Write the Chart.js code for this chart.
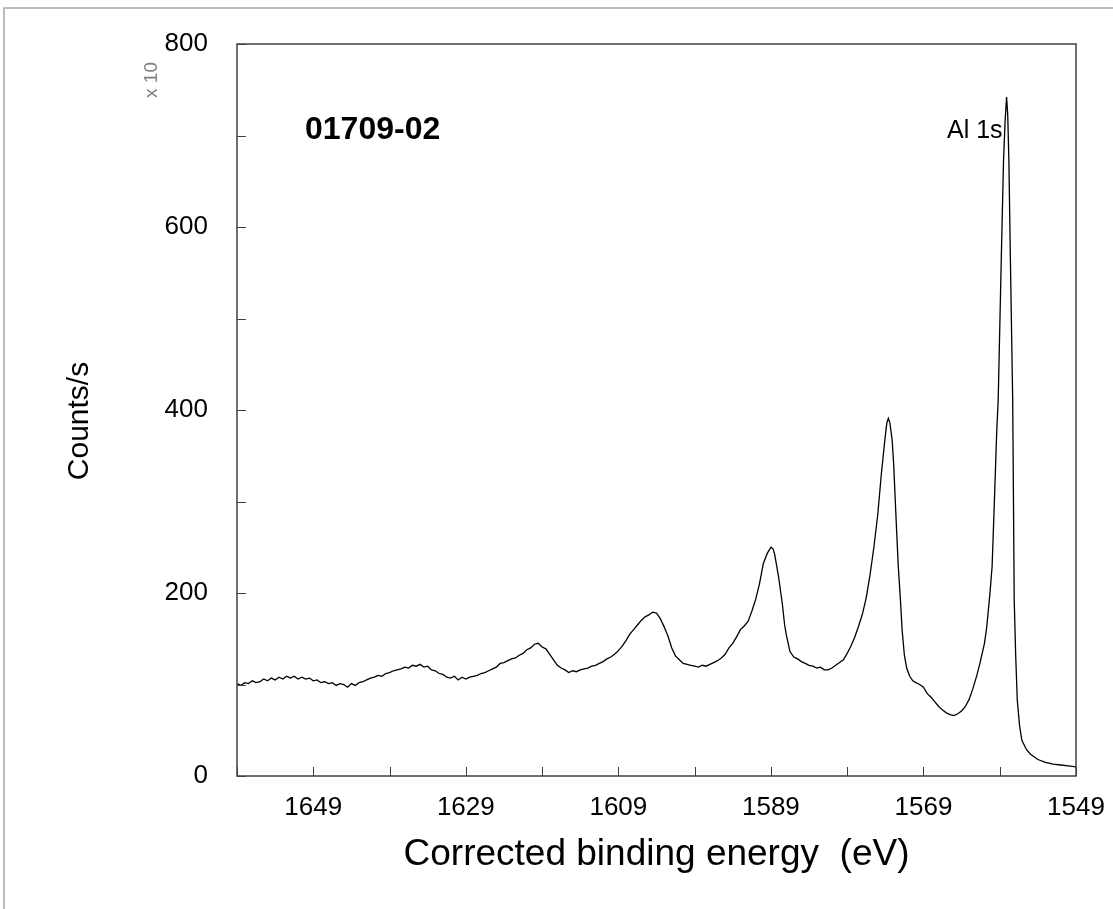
<!DOCTYPE html>
<html>
<head>
<meta charset="utf-8">
<script src="https://cdn.jsdelivr.net/npm/chart.js@4.4.1/dist/chart.umd.min.js"></script>
<style>
  html, body { margin: 0; padding: 0; background: #fff; }
  #wrap { position: relative; width: 1113px; height: 909px; }
  canvas { display: block; }
</style>
</head>
<body>
<div id="wrap"><canvas id="c" width="1113" height="909"></canvas></div>
<script>
// ---- data ----
const energy = [
  1659.0,1658.5,1658.0,1657.5,1657.0,1656.5,1656.0,1655.5,1655.0,1654.5,
  1654.0,1653.5,1653.0,1652.5,1652.0,1651.5,1651.0,1650.5,1650.0,1649.5,
  1649.0,1648.5,1648.0,1647.5,1647.0,1646.5,1646.0,1645.5,1645.0,1644.5,
  1644.0,1643.5,1643.0,1642.5,1642.0,1641.5,1641.0,1640.5,1640.0,1639.5,
  1639.0,1638.5,1638.0,1637.5,1637.0,1636.5,1636.0,1635.5,1635.0,1634.5,
  1634.0,1633.5,1633.0,1632.5,1632.0,1631.5,1631.0,1630.5,1630.0,1629.5,
  1629.0,1628.5,1628.0,1627.5,1627.0,1626.5,1626.0,1625.5,1625.0,1624.5,
  1624.0,1623.5,1623.0,1622.5,1622.0,1621.5,1621.0,1620.5,1620.0,1619.5,
  1619.0,1618.5,1618.0,1617.5,1617.0,1616.5,1616.0,1615.5,1615.0,1614.5,
  1614.0,1613.5,1613.0,1612.5,1612.0,1611.5,1611.0,1610.5,1610.0,1609.5,
  1609.0,1608.5,1608.0,1607.5,1607.0,1606.5,1606.0,1605.5,1605.0,1604.5,
  1604.0,1603.5,1603.0,1602.5,1602.0,1601.5,1601.0,1600.5,1600.0,1599.5,
  1599.0,1598.5,1598.0,1597.5,1597.0,1596.5,1596.0,1595.5,1595.0,1594.5,
  1594.0,1593.5,1593.0,1592.5,1592.0,1591.5,1591.0,1590.5,1590.0,1589.5,
  1589.0,1588.7,1588.5,1588.0,1587.5,1587.2,1587.0,1586.5,1586.0,1585.5,
  1585.0,1584.5,1584.0,1583.5,1583.0,1582.5,1582.0,1581.5,1581.0,1580.5,
  1580.0,1579.5,1579.0,1578.5,1578.0,1577.5,1577.0,1576.5,1576.0,1575.5,
  1575.0,1574.5,1574.0,1573.8,1573.6,1573.4,1573.1,1572.9,1572.7,1572.5,
  1572.3,1572.0,1571.8,1571.5,1571.2,1570.8,1570.4,1570.0,1569.5,1569.0,
  1568.5,1568.0,1567.5,1567.0,1566.5,1566.0,1565.5,1565.0,1564.5,1564.0,
  1563.5,1563.0,1562.5,1562.0,1561.6,1561.0,1560.7,1560.3,1560.0,1559.7,
  1559.4,1559.2,1558.8,1558.5,1558.3,1558.1,1557.95,1557.8,1557.6,1557.3,
  1557.2,1557.1,1556.9,1556.7,1556.4,1556.1,1555.5,1555.0,1554.5,1554.0,
  1553.0,1552.0,1551.0,1550.0,1549.0
];
const counts = [
  101,99,102,101,104,102,103,106,104,107,
  105,108,106,109,107,109,106,108,106,107,
  104,105,102,103,101,102,99,101,100,97,
  101,99,102,103,105,107,108,110,109,112,
  113,115,116,117,119,118,121,120,122,119,
  120,116,115,112,111,108,107,109,105,108,
  106,108,109,110,112,113,115,117,119,123,
  124,126,128,129,132,134,138,140,144,145,
  141,139,133,127,121,118,116,113,115,114,
  116,117,118,120,121,123,125,128,130,133,
  137,142,148,155,160,165,170,174,176,179,
  178,172,163,153,140,131,127,123,122,121,
  120,119,121,120,122,124,126,129,133,140,
  145,152,160,164,169,180,193,210,232,243,
  250,248,242,218,188,165,155,136,130,128,
  125,123,121,120,118,119,116,116,118,121,
  124,127,134,142,152,164,177,195,220,250,
  285,332,372,386,391,386,367,340,302,265,
  229,190,160,132,118,109,104,102,100,97,
  90,86,81,76,72,69,67,66,68,71,
  76,84,96,110,123,145,163,198,229,300,
  375,411,564,673,715,742,722,673,564,411,
  302,192,130,83,55,39,29,24,21,18,
  15,13,12,11,10
];
const xTickLabels = [1649, 1629, 1609, 1589, 1569, 1549];
const yTickLabels = [0, 200, 400, 600, 800];
const sampleName = "01709-02";
const peakName = "Al 1s";
const yMultiplier = "x 10";
const yTitle = "Counts/s";
const xTitle = "Corrected binding energy  (eV)";

// ---- chart ----
const FONT = "'Liberation Sans', Arial, sans-serif";

const framePlugin = {
  id: 'frame',
  afterDraw(chart) {
    const ctx = chart.ctx;
    const a = chart.chartArea;
    const xs = chart.scales.x, ys = chart.scales.y;
    ctx.save();
    // outer light frame
    ctx.strokeStyle = '#a6a6a6';
    ctx.lineWidth = 1.5;
    ctx.beginPath();
    ctx.moveTo(4, 909); ctx.lineTo(4, 8); ctx.lineTo(1113, 8);
    ctx.stroke();
    // plot frame
    ctx.strokeStyle = '#404040';
    ctx.lineWidth = 1.5;
    ctx.strokeRect(a.left, a.top, a.right - a.left, a.bottom - a.top);
    // inward ticks
    ctx.lineWidth = 1;
    ctx.beginPath();
    ys.ticks.forEach(t => {
      const y = Math.round(ys.getPixelForValue(t.value)) + 0.5;
      ctx.moveTo(a.left, y); ctx.lineTo(a.left + 9, y);
    });
    xs.ticks.forEach(t => {
      const x = Math.round(xs.getPixelForValue(t.value)) + 0.5;
      ctx.moveTo(x, a.bottom); ctx.lineTo(x, a.bottom - 9);
    });
    ctx.stroke();
    // annotations
    ctx.fillStyle = '#000';
    ctx.textBaseline = 'alphabetic';
    ctx.textAlign = 'left';
    ctx.font = 'bold 32px ' + FONT;
    ctx.fillText(sampleName, 305, 139);
    ctx.font = '25px ' + FONT;
    ctx.fillText(peakName, 947, 138);
    // y title
    ctx.save();
    ctx.translate(80, 421);
    ctx.rotate(-Math.PI / 2);
    ctx.textAlign = 'center';
    ctx.textBaseline = 'middle';
    ctx.font = '30px ' + FONT;
    ctx.fillText(yTitle, 0, 0);
    ctx.restore();
    // multiplier
    ctx.save();
    ctx.translate(157, 80);
    ctx.rotate(-Math.PI / 2);
    ctx.fillStyle = '#808080';
    ctx.font = '19px ' + FONT;
    ctx.textAlign = 'center';
    ctx.fillText(yMultiplier, 0, 0);
    ctx.restore();
    ctx.restore();
  }
};

new Chart(document.getElementById('c'), {
  type: 'scatter',
  data: {
    datasets: [{
      data: energy.map((e, i) => ({ x: e, y: counts[i] })),
      showLine: true,
      borderColor: '#000',
      borderWidth: 1.3,
      pointRadius: 0,
      tension: 0,
      fill: false
    }]
  },
  options: {
    responsive: false,
    animation: false,
    devicePixelRatio: 1,
    layout: { padding: { top: 44, right: 37, left: 0, bottom: 0 } },
    plugins: { legend: { display: false }, tooltip: { enabled: false } },
    scales: {
      x: {
        type: 'linear',
        reverse: true,
        min: 1549, max: 1659,
        afterFit(s) { s.height = 133; s.paddingLeft = 0; s.paddingRight = 0; },
        grid: { display: false, drawTicks: false },
        border: { display: false },
        ticks: {
          stepSize: 10,
          autoSkip: false,
          maxRotation: 0,
          padding: 16,
          color: '#000',
          font: { family: FONT, size: 26 },
          callback: v => xTickLabels.includes(v) ? String(v) : ''
        },
        title: {
          display: true,
          text: xTitle,
          color: '#000',
          font: { family: FONT, size: 37 },
          padding: { top: 0, bottom: 32 }
        }
      },
      y: {
        type: 'linear',
        min: 0, max: 800,
        afterFit(s) { s.width = 237; s.paddingTop = 0; s.paddingBottom = 0; },
        grid: { display: false, drawTicks: false },
        border: { display: false },
        ticks: {
          stepSize: 100,
          autoSkip: false,
          padding: 29,
          color: '#000',
          font: { family: FONT, size: 26 },
          callback: v => yTickLabels.includes(v) ? String(v) : ''
        }
      }
    }
  },
  plugins: [framePlugin]
});
</script>
</body>
</html>
